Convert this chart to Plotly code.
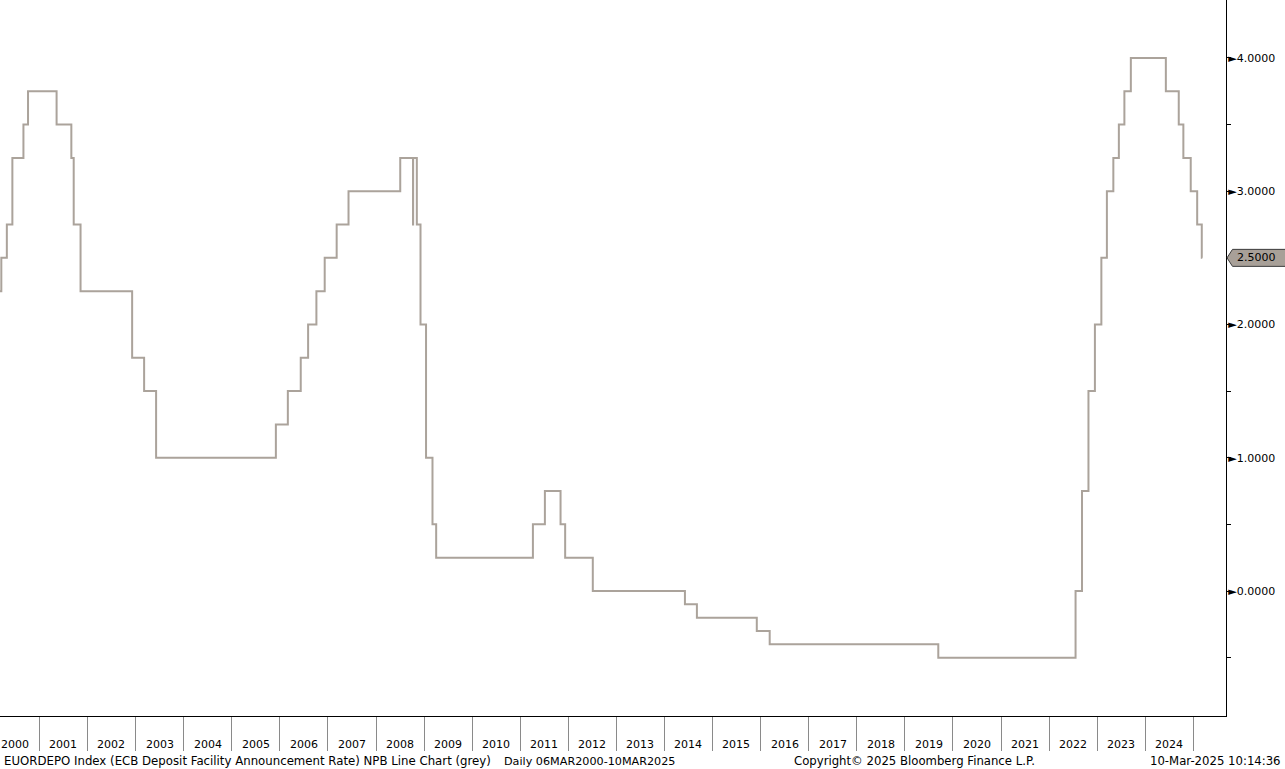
import plotly.graph_objects as go

# ECB deposit facility announcement rate: (announcement date, new rate)
dates = [
    "2000-03-06", "2000-03-16", "2000-04-27", "2000-06-08", "2000-08-31", "2000-10-05",
    "2001-05-10", "2001-08-30", "2001-09-17", "2001-11-08",
    "2002-12-05", "2003-03-06", "2003-06-05",
    "2005-12-01", "2006-03-02", "2006-06-08", "2006-08-03", "2006-10-05", "2006-12-07",
    "2007-03-08", "2007-06-06",
    "2008-07-03", "2008-10-08", "2008-10-09", "2008-11-06", "2008-12-04",
    "2009-01-15", "2009-03-05", "2009-04-02",
    "2011-04-07", "2011-07-07", "2011-11-03", "2011-12-08",
    "2012-07-05", "2014-06-05", "2014-09-04", "2015-12-03", "2016-03-10", "2019-09-12",
    "2022-07-21", "2022-09-08", "2022-10-27", "2022-12-15",
    "2023-02-02", "2023-03-16", "2023-05-04", "2023-06-15", "2023-07-27", "2023-09-14",
    "2024-06-06", "2024-09-12", "2024-10-17", "2024-12-12",
    "2025-01-30", "2025-03-06", "2025-03-10",
]
rates = [
    2.25, 2.50, 2.75, 3.25, 3.50, 3.75,
    3.50, 3.25, 2.75, 2.25,
    1.75, 1.50, 1.00,
    1.25, 1.50, 1.75, 2.00, 2.25, 2.50,
    2.75, 3.00,
    3.25, 2.75, 3.25, 2.75, 2.00,
    1.00, 0.50, 0.25,
    0.50, 0.75, 0.50, 0.25,
    0.00, -0.10, -0.20, -0.30, -0.40, -0.50,
    0.00, 0.75, 1.50, 2.00,
    2.50, 3.00, 3.25, 3.50, 3.75, 4.00,
    3.75, 3.50, 3.25, 3.00,
    2.75, 2.50, 2.50,
]

years = list(range(2000, 2025))
year_labels = [str(y) for y in years]
y_ticks = [-0.5, 0.0, 0.5, 1.0, 1.5, 2.0, 2.5, 3.0, 3.5, 4.0]
y_ticktext = ["\u25BA%.4f" % v if float(v).is_integer() else "" for v in y_ticks]

W, H = 1285, 769
ML, MR, MT, MB = 0, 59, 0, 53
PW, PH = W - ML - MR, H - MT - MB
Y0, Y1 = -0.938, 4.435
PX_PER_UNIT = PH / (Y1 - Y0)

FONT = "DejaVu Sans"
LINE_COLOR = "#ABA39B"

fig = go.Figure()
fig.add_trace(go.Scatter(
    x=dates, y=rates, mode="lines",
    line=dict(shape="hv", color=LINE_COLOR, width=2),
    hoverinfo="skip", showlegend=False,
))

annotations = []
for y, lab in zip(years, year_labels):
    annotations.append(dict(
        x="%d-07-01" % y, xref="x", y=-29 / PH, yref="paper",
        text=lab, showarrow=False, xanchor="center", yanchor="middle",
        font=dict(family=FONT, size=11, color="#000"),
    ))

foot_y = -45 / PH
annotations += [
    dict(x=2 / PW, y=foot_y, xref="paper", yref="paper", showarrow=False,
         xanchor="left", yanchor="middle",
         text="EUORDEPO Index (ECB Deposit Facility Announcement Rate) NPB Line Chart (grey)",
         font=dict(family=FONT, size=11.75, color="#000")),
    dict(x=502 / PW, y=foot_y, xref="paper", yref="paper", showarrow=False,
         xanchor="left", yanchor="middle", text="Daily 06MAR2000-10MAR2025",
         font=dict(family=FONT, size=11.2, color="#000")),
    dict(x=792 / PW, y=foot_y, xref="paper", yref="paper", showarrow=False,
         xanchor="left", yanchor="middle", text="Copyright\u00a9 2025 Bloomberg Finance L.P.",
         font=dict(family=FONT, size=11.7, color="#000")),
    dict(x=1283 / PW, y=foot_y, xref="paper", yref="paper", showarrow=False,
         xanchor="right", yanchor="middle", text="10-Mar-2025 10:14:36",
         font=dict(family=FONT, size=11.7, color="#000")),
]

# last value box
last = rates[-1]
hh = 8.5 / PX_PER_UNIT
xa = 1 + 1 / PW
xb = 1 + 6.5 / PW
xc = 1 + 70 / PW
path = "M %f,%f L %f,%f L %f,%f L %f,%f L %f,%f Z" % (
    xa, last, xb, last + hh, xc, last + hh, xc, last - hh, xb, last - hh)
shapes = [dict(type="path", xref="paper", yref="y", path=path,
               fillcolor="#A8A098", line=dict(color="#3A3A3A", width=1), layer="above")]
annotations.append(dict(
    x=1 + 8.5 / PW, xref="paper", y=last, yref="y", text="%.4f" % last,
    showarrow=False, xanchor="left", yanchor="middle",
    font=dict(family=FONT, size=11, color="#000"),
))

fig.update_layout(
    width=W, height=H,
    margin=dict(l=ML, r=MR, t=MT, b=MB, pad=0),
    paper_bgcolor="white", plot_bgcolor="white",
    showlegend=False,
    annotations=annotations, shapes=shapes,
    xaxis=dict(
        type="date", range=["2000-03-06", "2025-09-06"],
        showgrid=False, zeroline=False,
        showline=True, linecolor="#000", linewidth=1,
        tickvals=["%d-01-01" % y for y in range(2001, 2026)],
        ticks="outside", ticklen=34, tickcolor="#8A8A8A", tickwidth=1,
        showticklabels=False, fixedrange=True,
    ),
    yaxis=dict(
        side="right", range=[Y0, Y1],
        showgrid=False, zeroline=False,
        showline=True, linecolor="#000", linewidth=1,
        tickvals=y_ticks, ticktext=y_ticktext,
        ticks="outside", ticklen=4, tickcolor="#000", tickwidth=1,
        ticklabelstandoff=-5,
        tickfont=dict(family=FONT, size=11, color="#000"),
        fixedrange=True,
    ),
)

fig.write_html(
    "out.html",
    config={"displayModeBar": False},
    post_script="document.body.style.margin='0';document.body.style.overflow='hidden';",
)
